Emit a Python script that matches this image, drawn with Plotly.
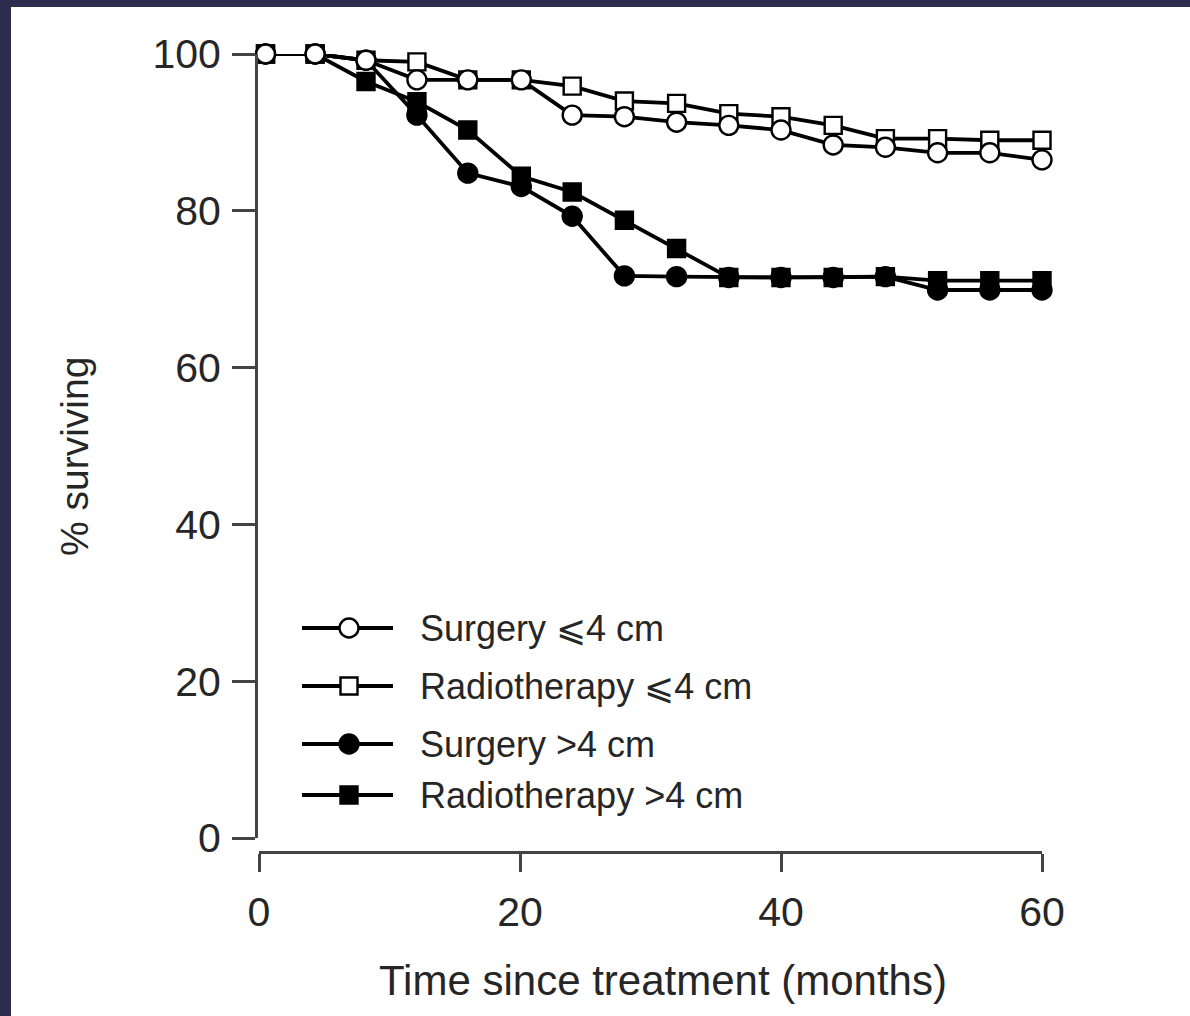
import plotly.graph_objects as go

# Survival data (months since treatment, % surviving)
months = [0.5, 4.3, 8.2, 12.1, 16, 20.1, 24, 28, 32, 36, 40, 44, 48, 52, 56, 60]
surgery_le4 = [100, 100, 99.2, 96.7, 96.7, 96.7, 92.2, 92.0, 91.3, 90.9, 90.3, 88.4, 88.1, 87.4, 87.4, 86.5]
radio_le4 = [100, 100, 99.2, 99.0, 96.7, 96.7, 95.9, 94.0, 93.7, 92.4, 92.0, 90.9, 89.2, 89.2, 89.0, 89.0]
surgery_gt4 = [100, 100, 99.2, 92.2, 84.8, 83.1, 79.3, 71.7, 71.6, 71.5, 71.5, 71.5, 71.6, 69.9, 69.9, 69.9]
radio_gt4 = [100, 100, 96.5, 93.9, 90.3, 84.4, 82.4, 78.8, 75.2, 71.5, 71.5, 71.5, 71.6, 71.1, 71.1, 71.1]

series_names = ["Surgery \u2a7d4 cm", "Radiotherapy \u2a7d4 cm", "Surgery >4 cm", "Radiotherapy >4 cm"]
x_ticks = [0, 20, 40, 60]
y_ticks = [0, 20, 40, 60, 80, 100]

# Figure geometry (pixels)
W, H = 1190, 1016
ML, MR, MT, MB = 256, 148, 54, 164
PW, PH = W - ML - MR, H - MT - MB
X0_PX, X60_PX = 259, 1042      # x-axis data span
Y0_PX, Y100_PX = 838, 54       # y-axis data span


def pxx(x):
    return (x - ML) / PW


def pxy(y):
    return (H - MB - y) / PH


FONT = "Liberation Sans, Arial, sans-serif"
TXT = "#262626"
AX = "#444444"

styles = [
    dict(symbol="circle", color="white", size=19),
    dict(symbol="square", color="white", size=17),
    dict(symbol="circle", color="black", size=19),
    dict(symbol="square", color="black", size=17),
]
values = [surgery_le4, radio_le4, surgery_gt4, radio_gt4]

fig = go.Figure()

# Draw filled series first so the open markers sit on top
for idx in [2, 3, 1, 0]:
    st = styles[idx]
    fig.add_trace(go.Scatter(
        x=months, y=values[idx], mode="lines+markers", name=series_names[idx],
        line=dict(color="black", width=3.8),
        marker=dict(symbol=st["symbol"], size=st["size"], color=st["color"],
                    line=dict(color="black", width=2.4)),
        cliponaxis=False, showlegend=False,
    ))

# Hand-drawn key (pixel coordinates on an overlay axis pair)
key_rows = [628, 686, 744, 795]
key_x0, key_xm, key_x1 = 302, 349, 393
for i, row in enumerate(key_rows):
    st = styles[i]
    fig.add_trace(go.Scatter(
        x=[key_x0, key_x1], y=[row, row], mode="lines",
        line=dict(color="black", width=3.8), xaxis="x2", yaxis="y2",
        showlegend=False, hoverinfo="skip",
    ))
    fig.add_trace(go.Scatter(
        x=[key_xm], y=[row], mode="markers",
        marker=dict(symbol=st["symbol"], size=st["size"], color=st["color"],
                    line=dict(color="black", width=2.4)),
        xaxis="x2", yaxis="y2", showlegend=False, hoverinfo="skip",
        cliponaxis=False,
    ))

annotations = []
for name, row in zip(series_names, key_rows):
    annotations.append(dict(
        text=name, x=pxx(418), y=pxy(row), xref="paper", yref="paper",
        xanchor="left", yanchor="middle", showarrow=False,
        font=dict(family=FONT, size=36, color=TXT),
    ))
annotations.append(dict(
    text="% surviving", x=pxx(74), y=pxy(457), xref="paper", yref="paper",
    xanchor="center", yanchor="middle", textangle=-90, showarrow=False,
    font=dict(family=FONT, size=39, color=TXT),
))
annotations.append(dict(
    text="Time since treatment (months)", x=pxx(663), y=pxy(980),
    xref="paper", yref="paper", xanchor="center", yanchor="middle",
    showarrow=False, font=dict(family=FONT, size=42, color=TXT),
))

# Dark frame along the left and top edges
frame = "#2d2b4e"
shapes = [
    dict(type="rect", xref="paper", yref="paper", x0=pxx(0), x1=pxx(11),
         y0=pxy(H), y1=pxy(0), fillcolor=frame, line=dict(width=0), layer="above"),
    dict(type="rect", xref="paper", yref="paper", x0=pxx(0), x1=pxx(W),
         y0=pxy(7), y1=pxy(0), fillcolor=frame, line=dict(width=0), layer="above"),
]

fig.update_layout(
    width=W, height=H,
    margin=dict(l=ML, r=MR, t=MT, b=MB, pad=0),
    paper_bgcolor="white", plot_bgcolor="white",
    showlegend=False,
    font=dict(family=FONT, color=TXT),
    xaxis=dict(
        domain=[pxx(X0_PX), pxx(X60_PX)], range=[0, 60], anchor="free", position=0,
        tickvals=x_ticks, ticks="outside", ticklen=18, tickwidth=3, tickcolor=AX,
        showline=True, linecolor=AX, linewidth=3, showgrid=False, zeroline=False,
        tickfont=dict(family=FONT, size=41, color=TXT), ticklabelstandoff=5,
    ),
    yaxis=dict(
        domain=[pxy(Y0_PX), pxy(Y100_PX)], range=[0, 100], anchor="free", position=0,
        tickvals=y_ticks, ticks="outside", ticklen=23, tickwidth=3, tickcolor=AX,
        showline=True, linecolor=AX, linewidth=3, showgrid=False, zeroline=False,
        tickfont=dict(family=FONT, size=41, color=TXT), ticklabelstandoff=3,
    ),
    xaxis2=dict(overlaying="x", anchor="y2", range=[X0_PX, X60_PX], visible=False),
    yaxis2=dict(overlaying="y", anchor="x2", range=[Y0_PX, Y100_PX], visible=False),
    annotations=annotations,
    shapes=shapes,
)

fig.write_html("out.html")
